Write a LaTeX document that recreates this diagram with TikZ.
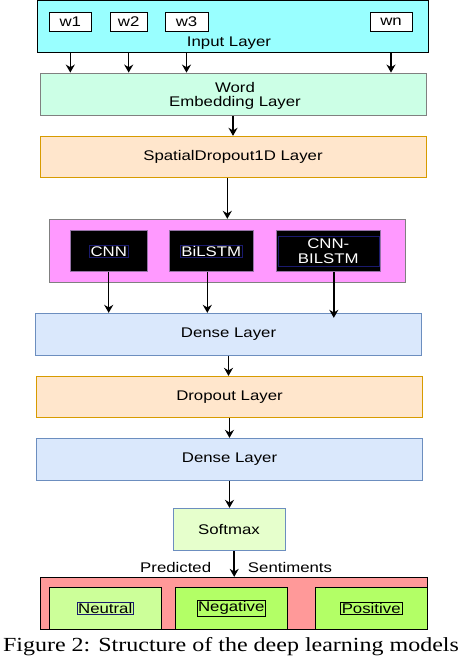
\documentclass[tikz,border=0pt]{standalone}
\usepackage{fontspec}
\setmainfont{Liberation Serif}[FakeStretch=1.2]
\newfontfamily\arialfont[FakeStretch=1.2]{Liberation Sans}
\usetikzlibrary{arrows.meta}
\definecolor{inputcyan}{HTML}{99FFFF}
\definecolor{embedmint}{HTML}{CCFFE6}
\definecolor{peach}{HTML}{FFE6CC}
\definecolor{peachline}{HTML}{D79B00}
\definecolor{pinkbox}{HTML}{FF99FF}
\definecolor{denseblue}{HTML}{DAE8FC}
\definecolor{denseline}{HTML}{6C8EBF}
\definecolor{softgreen}{HTML}{E6FFCC}
\definecolor{salmon}{HTML}{FF9999}
\definecolor{paleleaf}{HTML}{CCFF99}
\definecolor{leaf}{HTML}{B3FF66}
\definecolor{modelline}{HTML}{9673A6}
\definecolor{navyline}{HTML}{1A1A6E}
\newcommand\boxfont{\arialfont\fontsize{14}{14}\selectfont}
\tikzset{box/.style={rectangle,draw,line width=0.9pt,inner sep=0pt,align=center,font=\boxfont}}
\tikzset{wordbox/.style={box,draw=black,fill=white,minimum height=19.3pt}}
\tikzset{layerbox/.style={box,minimum width=386pt,minimum height=42pt}}
\tikzset{modelbox/.style={box,draw=modelline,fill=black,text=white,minimum height=41pt}}
\tikzset{classbox/.style={box,draw=black,fill=leaf,minimum width=112.3pt,minimum height=42pt}}
\tikzset{tag/.style={rectangle,draw=navyline,line width=0.6pt,inner sep=1.2pt,font=\boxfont}}
\tikzset{flow/.style={-{Stealth[length=8pt,width=9pt]},line width=1.5pt}}

\begin{document}
\begin{tikzpicture}[x=1pt,y=-1pt]
          \useasboundingbox (0,0) rectangle (462,664);

          %入力層
          \node[box, draw=black, fill=inputcyan, minimum width=391pt, minimum height=51.2pt] (input) at (232.5,26.4) {};
          \node[wordbox, minimum width=42pt] (w1) at (70.3,21.7) {w1};
          \node[wordbox, minimum width=37.3pt] (w2) at (128.7,21.7) {w2};
          \node[wordbox, minimum width=43pt] (w3) at (186.5,21.7) {w3};
          \node[wordbox, minimum width=42pt] (wn) at (391,21.7) {wn};
          \node[font=\boxfont, inner sep=0] (inputlabel) at (229,43) {Input Layer};

          %埋め込み層
          \node[layerbox, draw=gray, fill=embedmint, minimum height=42.3pt] (embed) at (233,94.2) {};
          \node[font=\boxfont, align=center, inner sep=0] (embedlabel) at (235,96) {Word\\[0.5pt]Embedding Layer};
          \node[layerbox, draw=peachline, fill=peach, minimum height=41pt] (spatial) at (233,156.8) {SpatialDropout1D Layer};

          \draw[flow] (input.south -| w1) -- (embed.north -| w1);
          \draw[flow] (input.south -| w2) -- (embed.north -| w2);
          \draw[flow] (input.south -| w3) -- (embed.north -| w3);
          \draw[flow] (input.south -| wn) -- (embed.north -| wn);
          \draw[flow] (embed.south) -- (spatial.north);

          %モデル
          \node[box, draw=gray, fill=pinkbox, minimum width=356pt, minimum height=63pt] (models) at (227.3,250.8) {};
          \node[modelbox, minimum width=76.7pt] (cnn) at (108.7,251.2) {};
          \node[modelbox, minimum width=84pt] (bilstm) at (211.3,251.2) {};
          \node[modelbox, minimum width=104.7pt] (cnnbilstm) at (328.3,251.2) {};
          \node[tag, text=white] (cnntext) at (cnn) {CNN};
          \node[tag, text=white] (bilstmtext) at (bilstm) {BiLSTM};
          \node[tag, text=white, minimum width=101pt, minimum height=30.7pt, align=center] (cnnbilstmtext) at (cnnbilstm) {CNN-\\[1pt]BILSTM};

          \draw[flow] (spatial.south -| models) -- (models.north);

          %全結合層
          \node[layerbox, draw=denseline, fill=denseblue] (dense1) at (228.5,334.3) {Dense Layer};
          \node[layerbox, draw=peachline, fill=peach, minimum height=41pt] (dropout) at (229.5,396.8) {Dropout Layer};
          \node[layerbox, draw=denseline, fill=denseblue] (dense2) at (229.5,459.3) {Dense Layer};
          \node[box, draw=denseline, fill=softgreen, minimum width=112pt, minimum height=42.4pt] (softmax) at (229,529.5) {Softmax};

          \draw[flow] (cnn.south) -- (cnn |- dense1.north);
          \draw[flow] ([xshift=-4pt]bilstm.south) -- ([xshift=-4pt]bilstm.south |- dense1.north);
          \draw[flow] ([xshift=5.5pt]cnnbilstm.south) -- ([xshift=5.5pt,yshift=-5pt]cnnbilstm.south |- dense1.north);
          \draw[flow] (dense1.south) -- (dense1.south |- dropout.north);
          \draw[flow] (dropout.south) -- (dropout.south |- dense2.north);
          \draw[flow] (dense2.south) -- (dense2.south |- softmax.north);

          %出力
          \node[box, draw=black, fill=salmon, minimum width=387pt, minimum height=52pt] (output) at (234.2,603.3) {};
          \node[classbox, fill=paleleaf] (neutral) at (105.2,608.3) {};
          \node[classbox] (negative) at (231.2,608.3) {};
          \node[classbox] (positive) at (371.2,608.3) {};
          \node[tag] (neutraltext) at (neutral) {Neutral};
          \node[tag, draw=black] (negativetext) at (negative) {Negative};
          \node[tag, draw=black] (positivetext) at (positive) {Positive};

          \draw[flow] (softmax.south -| output) -- (output.north);
          \node[font=\boxfont, inner sep=0] (predicted) at (175.7,567.3) {Predicted};
          \node[font=\boxfont, inner sep=0] (sentiments) at (290,567.3) {Sentiments};

          %キャプション
          \node[font=\fontsize{20}{20}\selectfont, inner sep=0, anchor=base] (caption) at (231,651.7) {Figure 2: Structure of the deep learning models};

\end{tikzpicture}
\end{document}
